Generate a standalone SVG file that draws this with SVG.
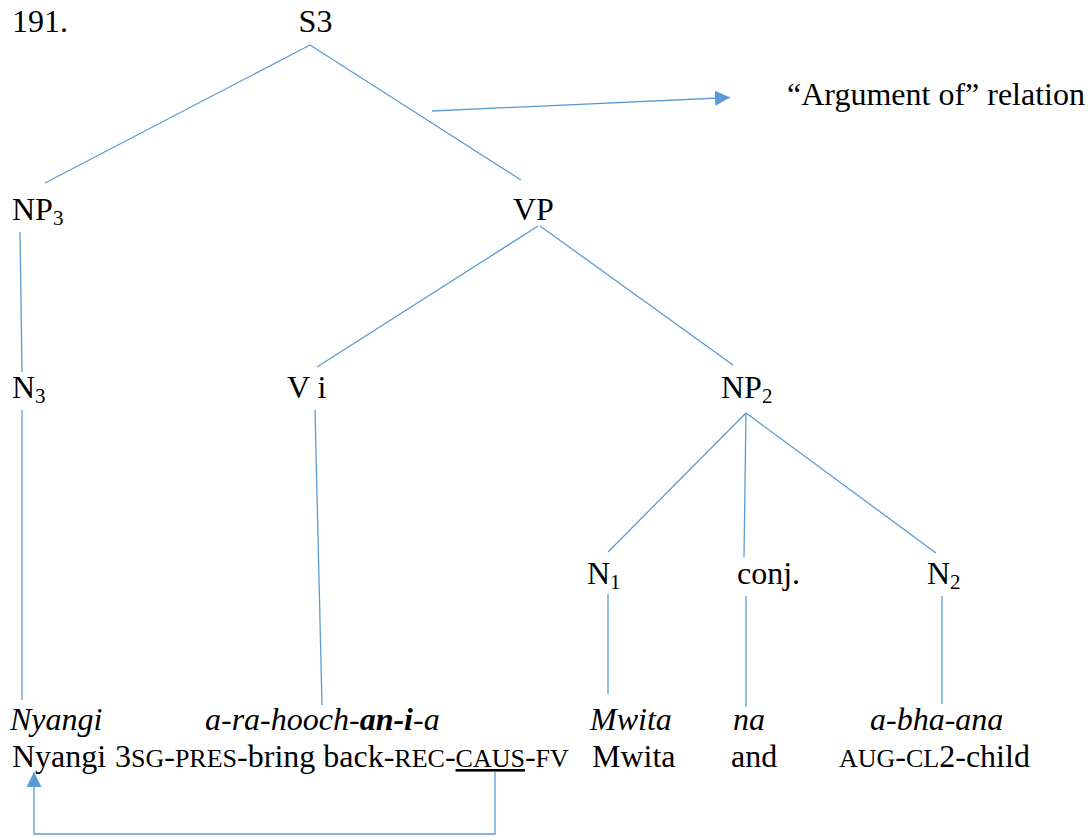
<svg xmlns="http://www.w3.org/2000/svg" width="1090" height="837" viewBox="0 0 1090 837" font-family="'Liberation Serif', Tinos, 'Times New Roman', 'DejaVu Serif', serif">
  <style>
    text { font-family: 'Liberation Serif', Tinos, 'Times New Roman', 'DejaVu Serif', serif; font-size: 32px; fill: #000; }
    .sub { font-size: 21px; }
    .sc { font-size: 26px; }
    .it { font-style: italic; }
    .bi { font-style: italic; font-weight: bold; }
    .edge { stroke: #5B9BD5; stroke-width: 1.3; fill: none; }
  </style>
  <defs>
    <marker id="head" markerUnits="userSpaceOnUse" markerWidth="16" markerHeight="16" refX="15" refY="7.5" orient="auto">
      <path d="M0,0 L15,7.5 L0,15 Z" fill="#5B9BD5"/>
    </marker>
  </defs>

  <rect width="1090" height="837" fill="#fff"/>

  <!-- example number -->
  <text id="exnum" x="12" y="32">191.</text>

  <!-- tree connectors -->
  <g id="connectors">
    <line class="edge" x1="310" y1="45" x2="45" y2="183"/>
    <line class="edge" x1="310" y1="45" x2="521" y2="180"/>
    <line class="edge" x1="432" y1="111" x2="730" y2="97.5" marker-end="url(#head)"/>
    <line class="edge" x1="20" y1="232" x2="22" y2="372"/>
    <line class="edge" x1="538" y1="226" x2="317" y2="367"/>
    <line class="edge" x1="540" y1="226" x2="733" y2="365"/>
    <line class="edge" x1="22" y1="410" x2="22" y2="700"/>
    <line class="edge" x1="315" y1="410" x2="322" y2="705"/>
    <line class="edge" x1="746" y1="413" x2="608" y2="552"/>
    <line class="edge" x1="746" y1="413" x2="744" y2="557"/>
    <line class="edge" x1="746" y1="413" x2="936" y2="553"/>
    <line class="edge" x1="608" y1="594" x2="608" y2="694"/>
    <line class="edge" x1="746" y1="596" x2="746" y2="707"/>
    <line class="edge" x1="942" y1="596" x2="942" y2="704"/>
    <!-- CAUS morpheme points back to its argument -->
    <polyline class="edge" points="495,772 495,834 34,834 34,772" marker-end="url(#head)"/>
  </g>

  <!-- nodes -->
  <g id="S3"><text x="315.5" y="32" text-anchor="middle">S3</text></g>
  <g id="legend"><text x="787" y="105">“Argument of” relation</text></g>
  <g id="NP3"><text x="12" y="220">NP<tspan class="sub" dy="5">3</tspan></text></g>
  <g id="VP"><text x="513" y="220">VP</text></g>
  <g id="N3"><text x="12" y="398">N<tspan class="sub" dy="5">3</tspan></text></g>
  <g id="Vi"><text x="287" y="398">V i</text></g>
  <g id="NP2"><text x="721" y="398">NP<tspan class="sub" dy="5">2</tspan></text></g>
  <g id="N1"><text x="587" y="584">N<tspan class="sub" dy="5">1</tspan></text></g>
  <g id="conj"><text x="737" y="584">conj.</text></g>
  <g id="N2"><text x="927" y="584">N<tspan class="sub" dy="5">2</tspan></text></g>

  <!-- words and glosses -->
  <g id="w-nyangi">
    <text class="it" x="10" y="730">Nyangi</text>
    <text x="12" y="767">Nyangi</text>
  </g>
  <g id="w-verb">
    <text x="205" y="730"><tspan class="it">a-ra-hooch-</tspan><tspan class="bi">an-i</tspan><tspan class="it">-a</tspan></text>
    <text x="115" y="767">3<tspan class="sc">SG</tspan>-<tspan class="sc">PRES</tspan>-bring back-<tspan class="sc">REC</tspan>-<tspan class="sc" text-decoration="underline">CAUS</tspan>-<tspan class="sc">FV</tspan></text>
  </g>
  <g id="w-mwita">
    <text class="it" x="590" y="730">Mwita</text>
    <text x="592" y="767">Mwita</text>
  </g>
  <g id="w-na">
    <text class="it" x="733" y="730">na</text>
    <text x="731" y="767">and</text>
  </g>
  <g id="w-abhana">
    <text class="it" x="870" y="730">a-bha-ana</text>
    <text x="839" y="767"><tspan class="sc">AUG</tspan>-<tspan class="sc">CL</tspan>2-child</text>
  </g>
</svg>
